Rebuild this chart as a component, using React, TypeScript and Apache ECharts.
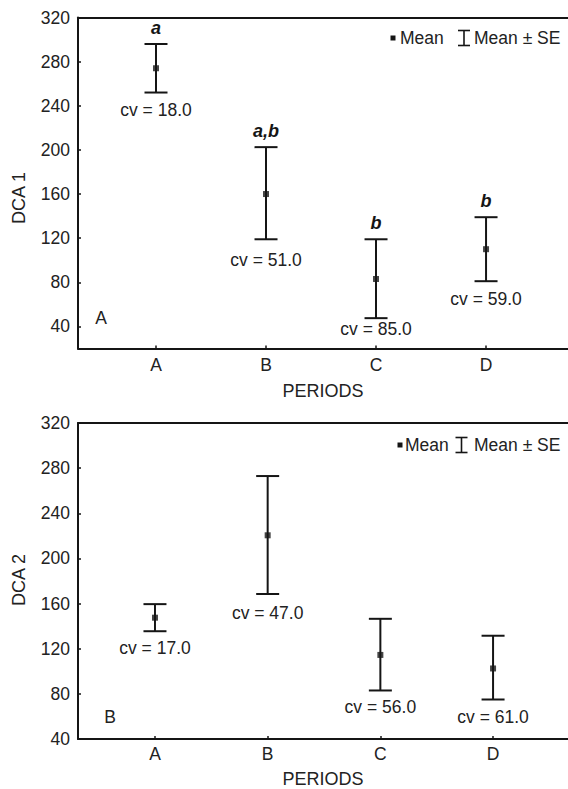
import React, { useEffect, useRef } from 'react';
import * as echarts from 'echarts';

const FONT = '"Liberation Sans", Arial, Helvetica, sans-serif';
const INK = '#151515';
const TXT = '#222222';

// ---- data ----
const periods = ['A', 'B', 'C', 'D'];
const xPositions = [1, 2, 3, 4];
const yTicks1 = [40, 80, 120, 160, 200, 240, 280, 320];
const yTicks2 = [40, 80, 120, 160, 200, 240, 280, 320];

const dca1Mean = [274, 160, 83, 110];
const dca1Lower = [252, 119, 47.5, 81];
const dca1Upper = [296, 202.5, 119, 139];
const dca1Letters = ['a', 'a,b', 'b', 'b'];
const dca1Cv = ['18.0', '51.0', '85.0', '59.0'];

const dca2Mean = [147.5, 220.5, 114.5, 102.5];
const dca2Lower = [135.5, 168.5, 83, 75];
const dca2Upper = [159.5, 273, 146.5, 131.5];
const dca2Cv = ['17.0', '47.0', '56.0', '61.0'];

// label gaps below the lower whisker (style)
const cvGap1 = [17, 21, 11, 18];
const cvGap2 = [17, 19, 17, 17];

function errorBars(name: string, xi: number, yi: number, mean: number[], lower: number[], upper: number[],
  letters: string[] | null, cvs: string[], gaps: number[]) {
  return {
    type: 'custom',
    name,
    xAxisIndex: xi,
    yAxisIndex: yi,
    encode: { x: 0, y: [1, 2, 3] },
    data: mean.map((m, i) => [xPositions[i], m, lower[i], upper[i]]),
    z: 2,
    renderItem: (params: any, api: any) => {
      const i = params.dataIndex;
      const x = api.value(0);
      const hi = api.coord([x, api.value(3)]);
      const lo = api.coord([x, api.value(2)]);
      const hw = 11.5;
      const ls = { stroke: INK, lineWidth: 2 };
      const children: any[] = [
        { type: 'line', shape: { x1: hi[0], y1: hi[1], x2: lo[0], y2: lo[1] }, style: ls },
        { type: 'line', shape: { x1: hi[0] - hw, y1: hi[1], x2: hi[0] + hw, y2: hi[1] }, style: ls },
        { type: 'line', shape: { x1: lo[0] - hw, y1: lo[1], x2: lo[0] + hw, y2: lo[1] }, style: ls },
        {
          type: 'text', x: lo[0], y: lo[1] + gaps[i],
          style: { text: 'cv = ' + cvs[i], fill: TXT, fontSize: 17.5, fontFamily: FONT, align: 'center', verticalAlign: 'middle' },
        },
      ];
      if (letters) {
        children.push({
          type: 'text', x: hi[0], y: hi[1] - 16,
          style: { text: letters[i], fill: INK, fontSize: 18, fontFamily: FONT, fontWeight: 'bold', fontStyle: 'italic', align: 'center', verticalAlign: 'middle' },
        });
      }
      return { type: 'group', children };
    },
  };
}

function meanSeries(xi: number, yi: number, mean: number[]) {
  return {
    type: 'scatter', name: 'Mean', xAxisIndex: xi, yAxisIndex: yi,
    symbol: 'rect', symbolSize: 6, z: 3,
    itemStyle: { color: INK },
    data: mean.map((m, i) => [xPositions[i], m]),
  };
}

function xAx(grid: number, min: number, max: number, bottom: boolean, nameGap: number, labelMargin: number) {
  if (!bottom) {
    return {
      type: 'value', gridIndex: grid, position: 'top', min, max,
      axisLine: { show: true, onZero: false, lineStyle: { color: INK, width: 2 } },
      axisTick: { show: false }, axisLabel: { show: false }, splitLine: { show: false },
    };
  }
  return {
    type: 'value', gridIndex: grid, position: 'bottom', min, max,
    name: 'PERIODS', nameLocation: 'middle', nameGap,
    nameTextStyle: { color: TXT, fontSize: 18, fontFamily: FONT },
    axisLine: { show: true, onZero: false, lineStyle: { color: INK, width: 2 } },
    axisTick: { show: true, inside: true, length: 3, customValues: xPositions, lineStyle: { color: INK, width: 1.5 } },
    axisLabel: {
      customValues: xPositions, margin: labelMargin, color: TXT, fontSize: 17.5, fontFamily: FONT,
      formatter: (v: number) => periods[Math.round(v) - 1] ?? '',
    },
    splitLine: { show: false },
  };
}

function yAx(grid: number, min: number, ticks: number[]) {
  return {
    type: 'value', gridIndex: grid, min, max: 320,
    axisLine: { show: true, onZero: false, lineStyle: { color: INK, width: 2 } },
    axisTick: { show: true, inside: true, length: 3, customValues: ticks, lineStyle: { color: INK, width: 1.5 } },
    axisLabel: { customValues: ticks, margin: 8, color: TXT, fontSize: 17.5, fontFamily: FONT },
    splitLine: { show: false },
  };
}

function legendGraphic(y: number, sqX: number, meanX: number, beamX: number, seX: number) {
  const t = { fill: TXT, fontSize: 17.5, fontFamily: FONT, verticalAlign: 'middle', align: 'left' };
  return [
    { type: 'rect', shape: { x: sqX - 2.5, y: y - 2.5, width: 5, height: 5 }, style: { fill: INK } },
    { type: 'text', x: meanX, y, style: { ...t, text: 'Mean' } },
    { type: 'line', shape: { x1: beamX, y1: y - 7.5, x2: beamX, y2: y + 7.5 }, style: { stroke: INK, lineWidth: 1.6 } },
    { type: 'line', shape: { x1: beamX - 6, y1: y - 7.5, x2: beamX + 6, y2: y - 7.5 }, style: { stroke: INK, lineWidth: 1.6 } },
    { type: 'line', shape: { x1: beamX - 6, y1: y + 7.5, x2: beamX + 6, y2: y + 7.5 }, style: { stroke: INK, lineWidth: 1.6 } },
    { type: 'text', x: seX, y, style: { ...t, text: 'Mean ± SE' } },
  ];
}

export default function App() {
  const ref = useRef<HTMLDivElement>(null);
  useEffect(() => {
    if (!ref.current) return;
    const chart = echarts.init(ref.current, null, { renderer: 'svg' });
    const option: any = {
      animation: false,
      backgroundColor: '#ffffff',
      textStyle: { fontFamily: FONT },
      grid: [
        { left: 78, top: 17.5, width: 490, height: 331 },
        { left: 78, top: 423, width: 490, height: 316 },
      ],
      xAxis: [
        xAx(0, 0.291, 4.745, true, 33, 7),
        xAx(0, 0.291, 4.745, false, 0, 0),
        xAx(1, 0.317, 4.665, true, 31, 6),
        xAx(1, 0.317, 4.665, false, 0, 0),
      ],
      yAxis: [yAx(0, 20, yTicks1), yAx(1, 40, yTicks2)],
      series: [
        errorBars('Mean ± SE', 0, 0, dca1Mean, dca1Lower, dca1Upper, dca1Letters, dca1Cv, cvGap1),
        meanSeries(0, 0, dca1Mean),
        errorBars('Mean ± SE', 2, 1, dca2Mean, dca2Lower, dca2Upper, null, dca2Cv, cvGap2),
        meanSeries(2, 1, dca2Mean),
      ],
      graphic: [
        ...legendGraphic(38, 393, 400, 464, 474),
        ...legendGraphic(445, 400, 405, 461.5, 474),
        {
          type: 'text', x: 19, y: 198, rotation: Math.PI / 2,
          style: { text: 'DCA 1', fill: TXT, fontSize: 18, fontFamily: FONT, align: 'center', verticalAlign: 'middle' },
        },
        {
          type: 'text', x: 19, y: 580, rotation: Math.PI / 2,
          style: { text: 'DCA 2', fill: TXT, fontSize: 18, fontFamily: FONT, align: 'center', verticalAlign: 'middle' },
        },
        {
          type: 'text', x: 101, y: 318,
          style: { text: 'A', fill: TXT, fontSize: 17.5, fontFamily: FONT, align: 'center', verticalAlign: 'middle' },
        },
        {
          type: 'text', x: 110, y: 717,
          style: { text: 'B', fill: TXT, fontSize: 17.5, fontFamily: FONT, align: 'center', verticalAlign: 'middle' },
        },
      ],
    };
    chart.setOption(option);
    return () => chart.dispose();
  }, []);
  return <div ref={ref} style={{ position: 'fixed', left: 0, top: 0, width: 568, height: 789, background: '#fff' }} />;
}
